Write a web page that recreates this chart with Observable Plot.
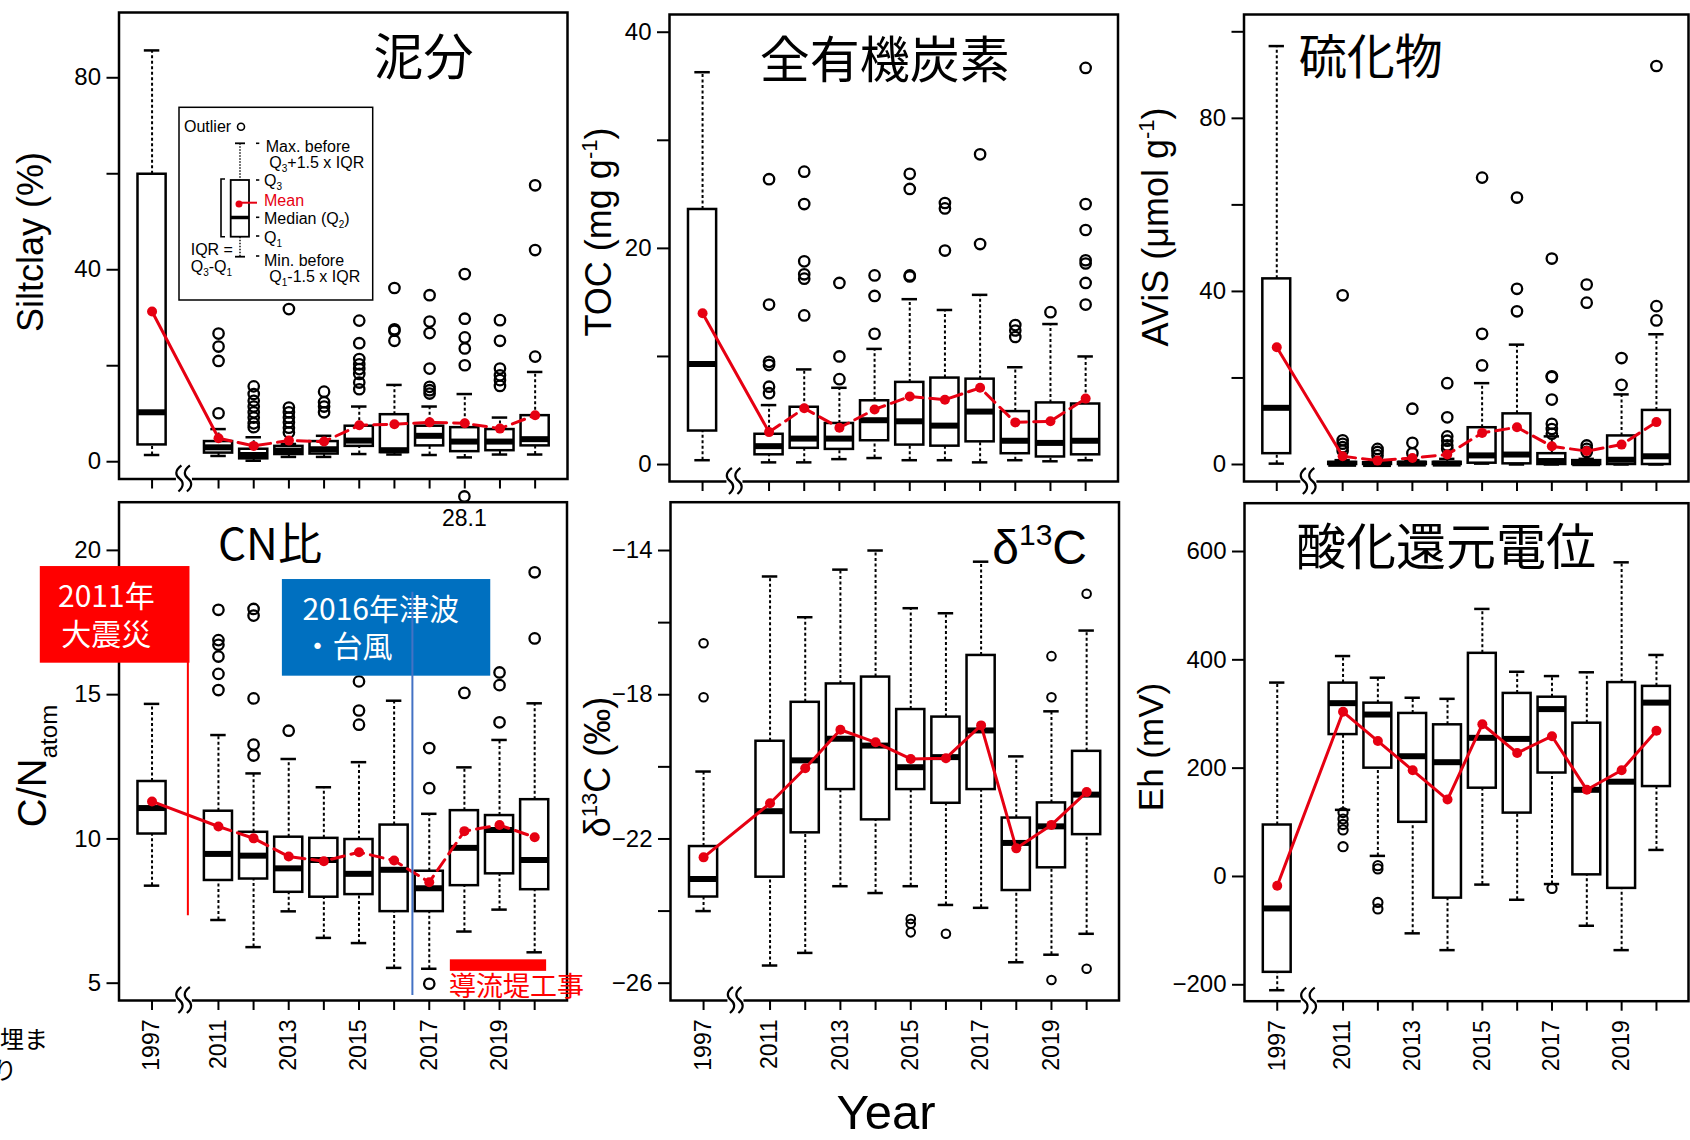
<!DOCTYPE html>
<html>
<head>
<meta charset="utf-8">
<script src="https://cdn.jsdelivr.net/npm/d3@7"></script>
<script src="https://cdn.jsdelivr.net/npm/@observablehq/plot@0.6"></script>
<style>
  body { margin: 0; background: #fff; }
  #chart { position: relative; width: 1690px; height: 1140px; overflow: hidden; background: #fff; }
  #chart svg { position: absolute; }
</style>
</head>
<body>
<div id="chart"></div>
<script>
// ---------------- data ----------------
const years = [1997, 2011, 2012, 2013, 2014, 2015, 2016, 2017, 2018, 2019, 2020];
const labeledYears = [1997, 2011, 2013, 2015, 2017, 2019];

// 泥分 Siltclay (%)
const siltLo   = [1.4, 1.2, 0.2, 1.0, 1.0, 1.6, 1.5, 1.4, 0.9, 1.5, 1.5];
const siltQ1   = [3.5, 1.8, 0.6, 1.5, 1.6, 3.2, 1.9, 3.3, 2.1, 2.3, 3.3];
const siltMed  = [10.3, 3.0, 1.4, 2.3, 2.6, 4.4, 2.4, 5.4, 4.2, 4.2, 4.7];
const siltQ3   = [59.9, 4.2, 2.6, 3.2, 4.2, 7.4, 9.8, 7.4, 7.1, 6.7, 9.6];
const siltHi   = [85.7, 6.8, 5.1, 3.7, 5.4, 11.5, 16.0, 11.5, 14.1, 9.2, 18.7];
const siltMean = [31.3, 4.9, 3.3, 4.4, 4.2, 7.6, 7.8, 8.2, 8.0, 6.9, 9.7];
const siltOut  = [[], [26.7, 24.0, 21.0, 10.1], [15.7, 14.1, 12.7, 11.5, 10.3, 9.2, 8.0, 7.2],
  [31.8, 11.3, 10.3, 9.2, 8.2, 7.1, 6.1], [14.6, 12.4, 11.5, 10.3],
  [29.4, 24.7, 21.4, 20.3, 19.3, 18.3, 16.5, 15.1], [36.2, 27.6, 27.3, 25.2],
  [34.7, 29.2, 26.8, 19.4, 15.6, 14.9, 14.2], [39.1, 29.8, 25.9, 23.6, 20.1],
  [29.5, 25.2, 19.4, 18.0, 17.0, 15.8], [57.6, 44.1, 21.9]];

// 全有機炭素 TOC (mg g-1)
const tocLo   = [0.4, 0.2, 0.2, 0.5, 0.6, 0.4, 0.4, 0.2, 0.4, 0.3, 0.4];
const tocQ1   = [3.1, 0.9, 1.5, 1.4, 2.2, 1.8, 1.7, 2.1, 1.0, 0.7, 0.9];
const tocMed  = [9.3, 1.7, 2.4, 2.4, 4.1, 4.0, 3.6, 4.9, 2.2, 2.0, 2.2];
const tocQ3   = [23.6, 2.8, 5.3, 3.8, 5.9, 7.6, 8.0, 7.9, 4.9, 5.7, 5.6];
const tocHi   = [36.3, 5.5, 8.8, 7.1, 10.7, 15.3, 14.3, 15.7, 9.0, 13.0, 10.0];
const tocMean = [14.0, 3.0, 5.2, 3.4, 5.1, 6.3, 6.0, 7.1, 3.9, 4.0, 6.1];
const tocOut  = [[], [26.4, 14.8, 9.5, 9.2, 7.2, 6.6], [27.1, 24.1, 18.8, 17.6, 17.2, 13.8],
  [16.8, 10.0, 7.9], [17.5, 15.6, 12.1], [26.9, 25.5, 17.5, 17.4], [24.2, 23.7, 19.8],
  [28.7, 20.4], [12.9, 12.4, 11.8], [14.1], [36.7, 24.1, 21.7, 18.9, 18.6, 16.8, 14.8]];

// 硫化物 AViS (µmol g-1)
const avsLo   = [0.2, 0, 0, 0, 0, 0.2, 0, 0, 0, 0, 0];
const avsQ1   = [2.5, 0, 0, 0, 0, 0.3, 0.15, 0, 0, 0, 0];
const avsMed  = [13.1, 0.15, 0.1, 0.2, 0.2, 2.1, 2.3, 0.8, 0.3, 1.1, 1.9];
const avsQ3   = [42.9, 0.5, 0.4, 0.5, 0.5, 8.5, 11.7, 2.5, 0.9, 6.6, 12.5];
const avsHi   = [96.7, 1.0, 0.8, 1.0, 1.3, 18.8, 27.7, 6.5, 1.3, 16.2, 30.1];
const avsMean = [27.1, 1.9, 0.9, 1.5, 2.3, 7.3, 8.6, 4.2, 3.1, 4.6, 9.8];
const avsOut  = [[], [39.1, 5.6, 4.8, 4.0, 3.2], [3.6, 2.9, 2.1], [12.9, 5.0, 2.6],
  [18.8, 10.9, 6.5, 5.5, 4.4, 3.6], [66.3, 30.2, 22.9], [61.7, 40.6, 35.4],
  [47.6, 20.4, 20.2, 15.0, 9.4, 8.2, 7.1], [41.6, 37.4, 4.4, 3.6, 2.9], [24.6, 18.4], [92.1, 36.6, 33.3]];

// CN比 C/N atom
const cnLo   = [8.38, 7.19, 6.25, 7.49, 6.57, 6.39, 5.53, 5.50, 6.79, 7.55, 6.07];
const cnQ1   = [10.17, 8.56, 8.61, 8.15, 7.98, 8.07, 7.48, 7.48, 8.38, 8.79, 8.24];
const cnMed  = [11.07, 9.48, 9.42, 8.98, 9.27, 8.79, 8.93, 8.29, 9.69, 10.31, 9.27];
const cnQ3   = [11.99, 10.96, 10.23, 10.06, 10.02, 9.98, 10.48, 8.88, 10.98, 10.81, 11.36];
const cnHi   = [14.68, 13.60, 12.27, 12.77, 11.79, 12.66, 14.79, 10.87, 12.48, 13.43, 14.70];
const cnMean = [11.30, 10.43, 10.02, 9.39, 9.23, 9.54, 9.25, 8.50, 10.27, 10.48, 10.06];
const cnOut  = [[], [17.94, 16.89, 16.73, 16.32, 15.72, 15.16], [17.97, 17.74, 14.87, 13.27, 12.89],
  [13.75], [], [15.46, 14.45, 13.96], [], [13.15, 11.76, 4.98], [15.06, 28.1],
  [15.77, 15.33, 14.04], [19.24, 16.95]];

// δ13C (‰)
const d13Lo   = [-24.0, -25.51, -25.16, -23.31, -23.50, -23.31, -23.83, -23.91, -25.42, -25.21, -24.63];
const d13Q1   = [-23.61, -23.06, -21.83, -20.63, -21.47, -20.63, -21.01, -20.63, -23.43, -22.80, -21.88];
const d13Med  = [-23.11, -21.23, -19.82, -19.22, -19.41, -20.01, -19.73, -18.99, -22.11, -21.65, -20.77];
const d13Q3   = [-22.21, -19.29, -18.21, -17.70, -17.51, -18.41, -18.62, -16.91, -21.42, -21.0, -19.57];
const d13Hi   = [-20.13, -14.72, -15.85, -14.53, -14.0, -15.60, -15.74, -14.31, -19.71, -18.46, -16.22];
const d13Mean = [-22.51, -21.01, -20.04, -18.97, -19.32, -19.78, -19.76, -18.85, -22.26, -21.61, -20.70];
const d13Out  = [[-16.57, -18.07], [], [], [], [], [-24.22, -24.35, -24.59], [-24.63], [], [],
  [-16.93, -18.07, -25.91], [-15.20, -25.60]];

// 酸化還元電位 Eh (mV)
const ehLo   = [-210, 123, 38, -105, -136, -15, -43, -14, -91, -136, 49];
const ehQ1   = [-177, 262, 200, 100, -40, 163, 117, 191, 3, -22, 166];
const ehMed  = [-59, 320, 299, 222, 211, 256, 254, 309, 160, 175, 321];
const ehQ3   = [95, 357, 320, 301, 280, 412, 338, 331, 283, 358, 351];
const ehHi   = [358, 407, 367, 330, 328, 494, 378, 370, 377, 580, 409];
const ehMean = [-17, 304, 250, 196, 142, 281, 228, 259, 160, 196, 269];
const ehOut  = [[], [118, 106, 96, 86, 55], [20, 14, -48, -60], [], [], [], [], [-22], [], [], []];

// y-axis ticks
const siltTicks = [0, 20, 40, 60, 80],          siltTickLabels = [0, 40, 80];
const tocTicks  = [0, 10, 20, 30, 40],          tocTickLabels  = [0, 20, 40];
const avsTicks  = [0, 20, 40, 60, 80, 100],     avsTickLabels  = [0, 40, 80];
const cnTicks   = [5, 10, 15, 20],              cnTickLabels   = [5, 10, 15, 20];
const d13Ticks  = [-26, -24, -22, -20, -18, -16, -14], d13TickLabels = [-26, -22, -18, -14];
const ehTicks   = [-200, 0, 200, 400, 600],     ehTickLabels   = [-200, 0, 200, 400, 600];

// ---------------- layout / style ----------------
const RED = "#e60012";
const SANS = "'Liberation Sans', Arial, Helvetica, sans-serif";
const CJK = "'Noto Sans CJK JP', 'Noto Sans CJK SC', sans-serif";
const X_DOMAIN = [2008.17, 2020.92];
const POS_1997 = 2009.11;   // axis break: 1997 placed before 2011
const BREAK_X = 2010.03;
const BOX_HALF = 0.4, CAP_HALF = 0.22;
const xPos = yr => (yr === 1997 ? POS_1997 : yr);
const fmtNum = d => (d < 0 ? "\u2212" + Math.abs(d) : String(d));

const chart = document.getElementById("chart");
const breakMarks = [];

function makePanel(c) {
  const rows = years.map((yr, i) => ({
    year: yr, x: xPos(yr), lo: c.lo[i], q1: c.q1[i], med: c.med[i], q3: c.q3[i], hi: c.hi[i], mean: c.mean[i]
  }));
  const [y0, y1] = c.yDomain;
  const above = y1 + (y1 - y0) * 0.0115;
  const outs = years.flatMap((yr, i) => c.out[i].map(v => ({x: xPos(yr), v, y: v > y1 ? above : v, off: v > y1})));
  const dash = "3,2.5";
  const marks = [
    Plot.ruleX(rows, {x: "x", y1: "q3", y2: "hi", strokeWidth: 2, strokeDasharray: dash}),
    Plot.ruleX(rows, {x: "x", y1: "lo", y2: "q1", strokeWidth: 2, strokeDasharray: dash}),
    Plot.ruleY(rows, {y: "hi", x1: d => d.x - CAP_HALF, x2: d => d.x + CAP_HALF, strokeWidth: 2.5}),
    Plot.ruleY(rows, {y: "lo", x1: d => d.x - CAP_HALF, x2: d => d.x + CAP_HALF, strokeWidth: 2.5}),
    Plot.rect(rows, {x1: d => d.x - BOX_HALF, x2: d => d.x + BOX_HALF, y1: "q1", y2: "q3", fill: "white", stroke: "black", strokeWidth: 2.5}),
    Plot.ruleY(rows, {y: "med", x1: d => d.x - BOX_HALF, x2: d => d.x + BOX_HALF, strokeWidth: 6}),
    Plot.dot(outs, {x: "x", y: "y", r: c.outR, stroke: "black", strokeWidth: c.outW, fill: "none"}),
    Plot.text(outs.filter(d => d.off), {x: "x", y: "y", text: d => String(d.v), dy: 22, fontSize: 23}),
    Plot.line(rows.slice(0, 2), {x: "x", y: "mean", stroke: RED, strokeWidth: 3}),
    Plot.line(rows.slice(1), {x: "x", y: "mean", stroke: RED, strokeWidth: 3, strokeDasharray: c.dashed ? "13,7" : "none"}),
    Plot.dot(rows, {x: "x", y: "mean", r: 5, fill: RED}),
    Plot.frame({strokeWidth: 2.5}),
    Plot.axisY({ticks: c.yTicks, tickFormat: d => (c.yLabeled.includes(d) ? fmtNum(d) : ""), tickSize: 12, tickPadding: 6, strokeWidth: 2, label: null}),
    Plot.axisX({
      ticks: years.map(xPos),
      tickFormat: d => { const yr = d === POS_1997 ? 1997 : d; return c.showYears && labeledYears.includes(yr) ? String(yr) : ""; },
      tickRotate: -90, tickSize: 10, tickPadding: 9, strokeWidth: 2, fontSize: 23, label: null
    }),
    ...(c.extra || [])
  ];
  const svg = Plot.plot({
    width: c.width, height: c.height,
    marginLeft: c.m[3], marginRight: c.m[1], marginTop: c.m[0], marginBottom: c.m[2],
    x: {type: "linear", domain: X_DOMAIN, axis: null, label: null},
    y: {type: "linear", domain: c.yDomain, axis: null, label: null},
    style: {fontFamily: SANS, fontSize: "24px", background: "transparent", overflow: "visible"},
    marks
  });
  svg.style.left = c.left + "px";
  svg.style.top = c.top + "px";
  chart.appendChild(svg);
  // location of the axis-break symbol, taken from the plot's own x scale
  breakMarks.push({x: c.left + svg.scale("x").apply(BREAK_X), y: c.top + c.height - c.m[2]});
}

// annotations for the C/N panel (data coordinates)
const quakeBox = {x1: 2005.93, x2: 2010.19, y1: 16.09, y2: 19.44, tx: 2007.81, ty: 17.79};
const tsunamiBox = {x1: 2012.82, x2: 2018.75, y1: 15.64, y2: 18.99, tx: 2013.39, ty: 17.34};
const quakeLine = {x: 2010.13, y1: 16.99, y2: 7.34};
const tsunamiLine = {x: 2016.52, y1: 18.55, y2: 4.57};
const worksBar = {x1: 2017.60, x2: 2020.34, y1: 5.41, y2: 5.81, tx: 2017.56, ty: 4.86};

const cnExtra = [
  Plot.rect([quakeBox], {x1: "x1", x2: "x2", y1: "y1", y2: "y2", fill: "#ff0000"}),
  Plot.text([quakeBox], {x: "tx", y: "ty", text: () => "2011年\n大震災", fill: "white", fontSize: 30, fontFamily: CJK, lineHeight: 1.27, textAnchor: "middle"}),
  Plot.ruleX([quakeLine], {x: "x", y1: "y1", y2: "y2", stroke: "#ff0000", strokeWidth: 2}),
  Plot.rect([tsunamiBox], {x1: "x1", x2: "x2", y1: "y1", y2: "y2", fill: "#0070c0"}),
  Plot.text([tsunamiBox], {x: "tx", y: "ty", text: () => "2016年津波\n・台風", fill: "white", fontSize: 30, fontFamily: CJK, lineHeight: 1.23, textAnchor: "start"}),
  Plot.ruleX([tsunamiLine], {x: "x", y1: "y1", y2: "y2", stroke: "#4472c4", strokeWidth: 2}),
  Plot.rect([worksBar], {x1: "x1", x2: "x2", y1: "y1", y2: "y2", fill: "#ff0000"}),
  Plot.text([worksBar], {x: "tx", y: "ty", text: () => "導流堤工事", fill: "#ff0000", fontSize: 27, fontFamily: CJK, textAnchor: "start"})
];

makePanel({lo: siltLo, q1: siltQ1, med: siltMed, q3: siltQ3, hi: siltHi, mean: siltMean, out: siltOut,
  yDomain: [-3.6, 93.6], yTicks: siltTicks, yLabeled: siltTickLabels, showYears: false, dashed: true, outR: 5.2, outW: 2.3,
  left: 0, top: 0, width: 580, height: 495, m: [12, 13, 16.5, 118.5]});
makePanel({lo: tocLo, q1: tocQ1, med: tocMed, q3: tocQ3, hi: tocHi, mean: tocMean, out: tocOut,
  yDomain: [-1.57, 41.64], yTicks: tocTicks, yLabeled: tocTickLabels, showYears: false, dashed: true, outR: 5.2, outW: 2.3,
  left: 580, top: 0, width: 545, height: 495, m: [14, 7.5, 14, 89]});
makePanel({lo: avsLo, q1: avsQ1, med: avsMed, q3: avsQ3, hi: avsHi, mean: avsMean, out: avsOut,
  yDomain: [-3.93, 104.0], yTicks: avsTicks, yLabeled: avsTickLabels, showYears: false, dashed: true, outR: 5.2, outW: 2.3,
  left: 1125, top: 0, width: 565, height: 495, m: [14, 2, 14, 118.5]});
makePanel({lo: cnLo, q1: cnQ1, med: cnMed, q3: cnQ3, hi: cnHi, mean: cnMean, out: cnOut,
  yDomain: [4.40, 21.67], yTicks: cnTicks, yLabeled: cnTickLabels, showYears: true, dashed: true, outR: 5.2, outW: 2.3,
  left: 0, top: 495, width: 580, height: 645, m: [6.7, 13.5, 140, 118.5], extra: cnExtra});
makePanel({lo: d13Lo, q1: d13Q1, med: d13Med, q3: d13Q3, hi: d13Hi, mean: d13Mean, out: d13Out,
  yDomain: [-26.48, -12.66], yTicks: d13Ticks, yLabeled: d13TickLabels, showYears: true, dashed: false, outR: 4.3, outW: 2,
  left: 580, top: 495, width: 545, height: 645, m: [6.7, 6.5, 140, 90]});
makePanel({lo: ehLo, q1: ehQ1, med: ehMed, q3: ehQ3, hi: ehHi, mean: ehMean, out: ehOut,
  yDomain: [-230.3, 689.2], yTicks: ehTicks, yLabeled: ehTickLabels, showYears: true, dashed: false, outR: 4.6, outW: 2.1,
  left: 1125, top: 495, width: 565, height: 645, m: [7.7, 2, 139.3, 119]});

// ---------------- overlay: axis breaks, titles, axis titles, legend ----------------
const ov = d3.create("svg").attr("width", 1690).attr("height", 1140)
  .style("left", "0px").style("top", "0px").style("overflow", "visible");

for (const b of breakMarks) {
  const g = ov.append("g").attr("transform", `translate(${b.x},${b.y})`);
  g.append("rect").attr("x", -8).attr("y", -3).attr("width", 16).attr("height", 6).attr("fill", "white");
  for (const cx of [-4.5, 4]) {
    g.append("path")
      .attr("d", `M${cx + 2},-13 C${cx - 5},-8 ${cx - 4},-3 ${cx},0 S${cx + 5},8 ${cx - 1},13`)
      .attr("fill", "none").attr("stroke", "black").attr("stroke-width", 2.2);
  }
}

function rotLabel(x, y, spans) {
  const t = ov.append("text").attr("transform", `translate(${x},${y}) rotate(-90)`)
    .attr("text-anchor", "middle").attr("font-family", SANS).attr("fill", "black");
  let cur = 0;
  for (const s of spans) {
    const sh = s.shift || 0;
    t.append("tspan").attr("font-size", s.size).attr("dy", sh - cur).text(s.t);
    cur = sh;
  }
}
rotLabel(43, 242, [{t: "Siltclay (%)", size: 36}]);
rotLabel(611, 232, [{t: "TOC (mg g", size: 36}, {t: "-1", size: 22, shift: -14}, {t: ")", size: 36}]);
rotLabel(1168, 227, [{t: "AViS (\u03bcmol g", size: 36}, {t: "-1", size: 22, shift: -14}, {t: ")", size: 36}]);
rotLabel(46, 766, [{t: "C/N", size: 40}, {t: "atom", size: 24, shift: 11}]);
rotLabel(610, 767, [{t: "\u03b4", size: 36}, {t: "13", size: 22, shift: -13}, {t: "C (\u2030)", size: 36}]);
rotLabel(1163, 747, [{t: "Eh (mV)", size: 35}]);

function title(x, y, txt, size, family = CJK, anchor = "middle") {
  ov.append("text").attr("x", x).attr("y", y).attr("text-anchor", anchor)
    .attr("font-family", family).attr("font-size", size).attr("fill", "black").text(txt);
}
title(423.6, 74.5, "泥分", 50);
title(884.7, 78, "全有機炭素", 50);
title(1370.8, 73.5, "硫化物", 48);
title(270, 560, "CN比", 44);
title(1446, 564.5, "酸化還元電位", 50);
{
  const t = ov.append("text").attr("x", 1087).attr("y", 564).attr("text-anchor", "end")
    .attr("font-family", SANS).attr("fill", "black");
  t.append("tspan").attr("font-size", 48).text("\u03b4");
  t.append("tspan").attr("font-size", 30).attr("dy", -19).text("13");
  t.append("tspan").attr("font-size", 48).attr("dy", 19).text("C");
}
title(886, 1129, "Year", 49, "'Liberation Sans Narrow', 'Liberation Sans', Arial, sans-serif");
title(48, 1048, "埋ま", 24, CJK, "end");
title(17, 1079, "り", 24, CJK, "end");

// legend (box-plot key) inside the Siltclay panel
{
  const g = ov.append("g").attr("font-family", SANS).attr("font-size", 16).attr("fill", "black");
  g.append("rect").attr("x", 179).attr("y", 107.3).attr("width", 193.7).attr("height", 192.7)
    .attr("fill", "white").attr("stroke", "black").attr("stroke-width", 1.5);
  g.append("text").attr("x", 184).attr("y", 131.7).text("Outlier");
  g.append("circle").attr("cx", 241).attr("cy", 126.7).attr("r", 3.5).attr("fill", "none").attr("stroke", "black").attr("stroke-width", 1.6);
  const ln = (x1, y1, x2, y2, w = 1.6, dash = null, col = "black") => {
    const l = g.append("line").attr("x1", x1).attr("y1", y1).attr("x2", x2).attr("y2", y2)
      .attr("stroke", col).attr("stroke-width", w);
    if (dash) l.attr("stroke-dasharray", dash);
  };
  ln(235, 143.3, 245, 143.3, 1.8);
  ln(240, 143.3, 240, 180, 1.4, "1.5,1.5");
  ln(240, 236.7, 240, 256.7, 1.4, "1.5,1.5");
  ln(235, 256.7, 245, 256.7, 1.8);
  g.append("rect").attr("x", 230.7).attr("y", 180).attr("width", 18.3).attr("height", 56.7)
    .attr("fill", "white").attr("stroke", "black").attr("stroke-width", 1.8);
  ln(230.7, 217.5, 249, 217.5, 3.5);
  ln(239, 202.7, 257, 202.7, 2, null, RED);
  g.append("circle").attr("cx", 239).attr("cy", 204).attr("r", 3.5).attr("fill", RED);
  g.append("path").attr("d", "M225,179 H221 V236.7 H225").attr("fill", "none").attr("stroke", "black").attr("stroke-width", 1.6);
  for (const y of [143.3, 180, 217.3, 236, 256]) ln(256, y, 259.3, y, 1.6);
  const lab = (x, y, parts, col = "black") => {
    const t = g.append("text").attr("x", x).attr("y", y).attr("fill", col);
    let cur = 0;
    for (const p of parts) {
      const sh = p.sub ? 4 : 0;
      t.append("tspan").attr("font-size", p.sub ? 10 : 16).attr("dy", sh - cur).text(p.t);
      cur = sh;
    }
  };
  lab(265.7, 151.7, [{t: "Max. before"}]);
  lab(269.3, 168.3, [{t: "Q"}, {t: "3", sub: true}, {t: "+1.5 x IQR"}]);
  lab(264, 186, [{t: "Q"}, {t: "3", sub: true}]);
  lab(264, 206, [{t: "Mean"}], RED);
  lab(264, 224, [{t: "Median (Q"}, {t: "2", sub: true}, {t: ")"}]);
  lab(264, 242.7, [{t: "Q"}, {t: "1", sub: true}]);
  lab(264, 266, [{t: "Min. before"}]);
  lab(269.3, 281.7, [{t: "Q"}, {t: "1", sub: true}, {t: "-1.5 x IQR"}]);
  lab(190.7, 255, [{t: "IQR ="}]);
  lab(190.7, 271.7, [{t: "Q"}, {t: "3", sub: true}, {t: "-Q"}, {t: "1", sub: true}]);
}

chart.appendChild(ov.node());
</script>
</body>
</html>
